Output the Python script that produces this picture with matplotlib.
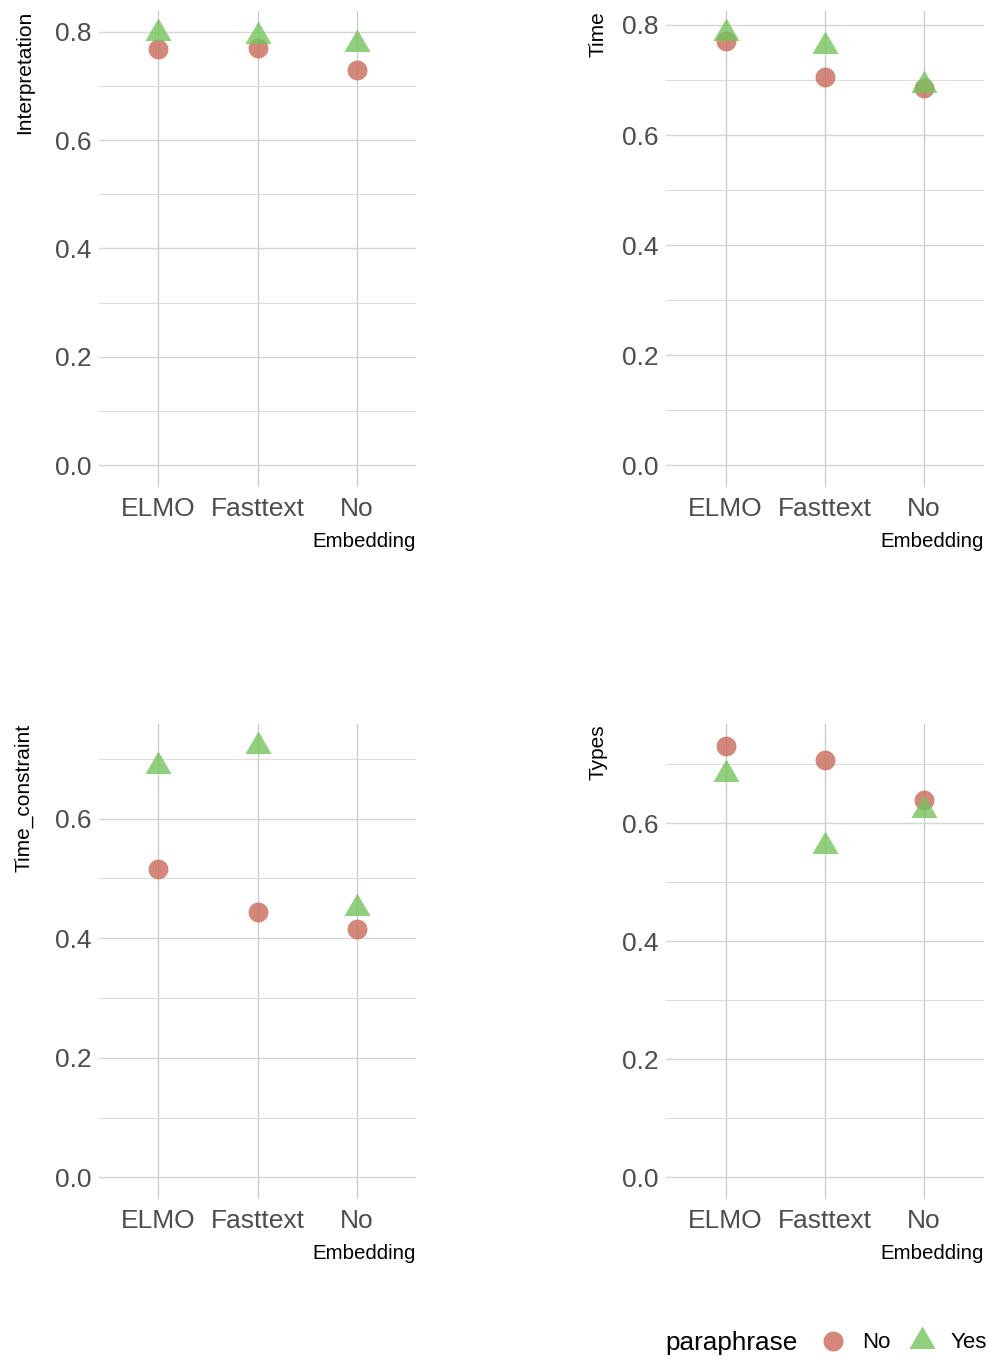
import matplotlib
matplotlib.use("Agg")
import matplotlib.pyplot as plt
from matplotlib.lines import Line2D
from matplotlib.ticker import MultipleLocator

# no narrow face installed, so regular Liberation Sans sized to the label widths
FONT = ["Liberation Sans", "DejaVu Sans"]

embeddings = ["ELMO", "Fasttext", "No"]
metrics = ["Interpretation", "Time", "Time_constraint", "Types"]

interp_no = [0.767, 0.769, 0.730]
interp_yes = [0.798, 0.791, 0.777]
time_no = [0.771, 0.705, 0.685]
time_yes = [0.786, 0.762, 0.690]
tc_no = [0.515, 0.443, 0.415]
tc_yes = [0.688, 0.722, 0.451]
types_no = [0.732, 0.707, 0.640]
types_yes = [0.684, 0.561, 0.623]

NO_COLOR = "#c96b5a"
YES_COLOR = "#74c45a"
ALPHA = 0.8
TRI = (3, 0, 0)  # equilateral triangle, like ggplot shape 17


def draw_panel(ax, metric, no_vals, yes_vals, ylab_x):
    xs = range(len(embeddings))
    ax.scatter(xs, no_vals, s=205, marker="o", color=NO_COLOR, alpha=ALPHA,
               linewidths=0, zorder=3)
    ax.scatter(xs, yes_vals, s=470, marker=TRI, color=YES_COLOR, alpha=ALPHA,
               linewidths=0, zorder=3)

    top = max(max(no_vals), max(yes_vals))
    ax.set_ylim(-0.05 * top, 1.05 * top)
    ax.set_xlim(-0.6, len(embeddings) - 0.4)

    ax.yaxis.set_major_locator(MultipleLocator(0.2))
    ax.yaxis.set_minor_locator(MultipleLocator(0.1))
    ax.set_xticks(list(xs))
    ax.set_xticklabels(embeddings)
    ax.yaxis.set_major_formatter(plt.FuncFormatter(lambda v, p: f"{v:.1f}"))

    ax.grid(True, which="major", axis="y", color="#d6d6d6", linewidth=1.0)
    ax.grid(True, which="minor", axis="y", color="#dddddd", linewidth=0.8)
    ax.grid(True, which="major", axis="x", color="#c8c8c8", linewidth=0.9)
    ax.set_axisbelow(True)
    for sp in ax.spines.values():
        sp.set_visible(False)

    ax.tick_params(axis="both", which="both", length=0, colors="#4d4d4d",
                   labelsize=19)
    ax.tick_params(axis="x", pad=7)
    ax.tick_params(axis="y", pad=5.5)
    for lab in ax.get_xticklabels() + ax.get_yticklabels():
        lab.set_family(FONT)

    ax.set_xlabel("Embedding", loc="right", fontsize=14.8, family=FONT)
    ax.xaxis.set_label_coords(1.0, -0.095)
    ax.set_ylabel(metric, loc="top", fontsize=15, family=FONT)
    ax.yaxis.set_label_coords(ylab_x, 1.0)


def main():
    fig = plt.figure(figsize=(9.89, 13.64), dpi=100)

    W, H = 989, 1364
    lefts = [98.8 / W, 666.1 / W]
    width = 317.4 / W
    rows = [(1 - 487 / H, 476 / H), (1 - 1199 / H, 475 / H)]

    series = [(interp_no, interp_yes), (time_no, time_yes),
              (tc_no, tc_yes), (types_no, types_yes)]
    ylab_xs = [-0.205, -0.185]

    for i, metric in enumerate(metrics):
        r, c = divmod(i, 2)
        bottom, height = rows[r]
        ax = fig.add_axes([lefts[c], bottom, width, height])
        no_vals, yes_vals = series[i]
        draw_panel(ax, metric, no_vals, yes_vals, ylab_xs[c])

    # legend at the bottom right: title on the left, keys in a row
    ly = 1 - 1343 / H
    fig.text(665 / W, ly, "paraphrase", ha="left", va="center",
             fontsize=18.8, family=FONT)
    handles = [
        Line2D([], [], linestyle="none", marker="o", markersize=14.4,
               color=NO_COLOR, alpha=ALPHA, markeredgewidth=0),
        Line2D([], [], linestyle="none", marker=TRI, markersize=21.7,
               color=YES_COLOR, alpha=ALPHA, markeredgewidth=0),
    ]
    fig.legend(handles, ["No", "Yes"], loc="center left",
               bbox_to_anchor=(822.6 / W, ly), ncol=2, frameon=False,
               borderpad=0, borderaxespad=0, handlelength=0.95,
               handletextpad=0.85, columnspacing=0.9,
               prop={"family": FONT, "size": 16})

    fig.savefig("out.png", dpi=100)
    plt.close(fig)


if __name__ == "__main__":
    main()
